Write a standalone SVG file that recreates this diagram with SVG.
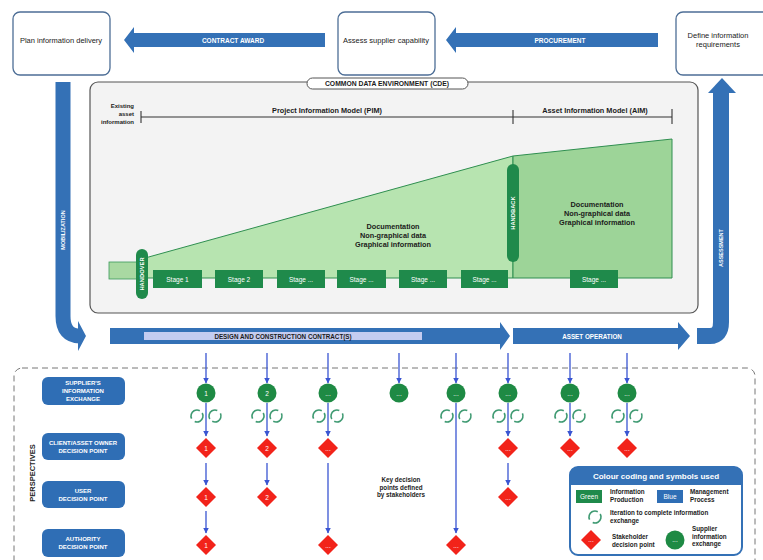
<svg xmlns="http://www.w3.org/2000/svg" width="763" height="560" viewBox="0 0 763 560">
<style>
text{font-family:"Liberation Sans",Arial,sans-serif}
.box{fill:#fff;stroke:#4d6e96;stroke-width:1.3}
.bt{font-size:7.5px;fill:#222;text-anchor:middle}
.blue{fill:#3471b6}
.wt{fill:#fff;font-weight:bold;text-anchor:middle}
.dk{fill:#1b1b1b;font-weight:bold}
.stage{fill:#1f8a4b}
.st{font-size:6.5px;fill:#fff;text-anchor:middle}
.pill{fill:#1f8a4b}
.gc{fill:#1e8a44}
.dia{fill:#f2231a}
.num{font-size:6.5px;fill:#fff;text-anchor:middle}
.con{stroke:#3a55d2;stroke-width:1.3;fill:none}
.it{fill:none;stroke:#3f9a72;stroke-width:1.6;stroke-dasharray:14.5 4.35}
.pl{fill:#2f6eb5}
</style>
<defs>
<marker id="ah" markerWidth="6" markerHeight="6" refX="5.5" refY="3" orient="auto" markerUnits="userSpaceOnUse"><path d="M0,0 L6,3 L0,6 z" fill="#3a55d2"/></marker>
<g id="iter"><circle cx="-9" cy="0" r="6" class="it" transform="rotate(-30 -9 0)"/><circle cx="9" cy="0" r="6" class="it" transform="rotate(150 9 0)"/></g>
</defs>

<!-- Top boxes -->
<g id="plan"><rect class="box" x="13" y="12" width="97" height="63" rx="7"/><text class="bt" x="61" y="43">Plan information delivery</text></g>
<g id="assess"><rect class="box" x="338" y="12" width="97" height="63" rx="7"/><text class="bt" x="386" y="43">Assess supplier capability</text></g>
<g id="define"><rect class="box" x="676" y="12" width="100" height="63" rx="7"/><text class="bt" x="718" y="38">Define information</text><text class="bt" x="718" y="47">requirements</text></g>

<!-- Top arrows -->
<g id="contract-award"><polygon class="blue" points="124,40 134,27 134,33 325,33 325,47 134,47 134,53"/><text class="wt" x="233" y="42.5" font-size="6.5">CONTRACT AWARD</text></g>
<g id="procurement"><polygon class="blue" points="446,40 456,27 456,33 658,33 658,47 456,47 456,53"/><text class="wt" x="560" y="42.5" font-size="6.5">PROCUREMENT</text></g>

<!-- Mobilization -->
<g id="mobilization">
<path d="M63,82 V316 Q63,336 80,336" fill="none" stroke="#3471b6" stroke-width="15"/>
<polygon class="blue" points="78,321 86,336 78,351"/>
<text class="wt" font-size="5.5" transform="translate(65,230) rotate(-90)">MOBILIZATION</text>
</g>

<!-- Assessment -->
<g id="assessment">
<path d="M697,336 H710 Q721,336 721,322 V92" fill="none" stroke="#3471b6" stroke-width="16"/>
<polygon class="blue" points="708,93 722,78 736,93"/>
<text class="wt" font-size="5.5" transform="translate(723,248) rotate(-90)">ASSESSMENT</text>
</g>

<!-- CDE -->
<g id="cde">
<rect x="90" y="82" width="608" height="231" rx="8" fill="#f3f3f3" stroke="#555" stroke-width="1.2"/>
<rect x="307" y="78" width="161" height="11" rx="5.5" fill="#fff" stroke="#555" stroke-width="1"/>
<text class="dk" x="387" y="86.3" font-size="6.8" text-anchor="middle" fill="#333">COMMON DATA ENVIRONMENT (CDE)</text>
<text class="dk" x="134" y="108" font-size="6" text-anchor="end">Existing</text>
<text class="dk" x="134" y="116" font-size="6" text-anchor="end">asset</text>
<text class="dk" x="134" y="124" font-size="6" text-anchor="end">information</text>
<g stroke="#333" stroke-width="1.1">
<line x1="141" y1="117" x2="672" y2="117"/>
<line x1="141" y1="111" x2="141" y2="123"/>
<line x1="513" y1="110" x2="513" y2="124"/>
<line x1="672" y1="109" x2="672" y2="124"/>
</g>
<text class="dk" x="327" y="113" font-size="7.3" text-anchor="middle">Project Information Model (PIM)</text>
<text class="dk" x="595" y="113" font-size="7.3" text-anchor="middle">Asset Information Model (AIM)</text>
</g>

<!-- Information areas -->
<g id="existing-info"><rect x="109" y="262" width="36" height="17" fill="#a9d9a2" stroke="#3a9a5a" stroke-width="0.8"/></g>
<g id="pim-area">
<polygon points="145,258 513,156 513,278 145,278" fill="#b7e4b0" stroke="#2f8f50" stroke-width="1"/>
<text class="dk" x="393" y="229" font-size="7.3" text-anchor="middle">Documentation</text>
<text class="dk" x="393" y="238" font-size="7.3" text-anchor="middle">Non-graphical data</text>
<text class="dk" x="393" y="247" font-size="7.3" text-anchor="middle">Graphical information</text>
</g>
<g id="aim-area">
<polygon points="513,156 672,139 672,278 513,278" fill="#9dd498" stroke="#2f8f50" stroke-width="1"/>
<text class="dk" x="597" y="207" font-size="7.3" text-anchor="middle">Documentation</text>
<text class="dk" x="597" y="216" font-size="7.3" text-anchor="middle">Non-graphical data</text>
<text class="dk" x="597" y="225" font-size="7.3" text-anchor="middle">Graphical information</text>
</g>
<g id="handover"><rect class="pill" x="136" y="249" width="12" height="50" rx="6"/><text class="wt" font-size="5.8" transform="translate(144.2,274) rotate(-90)">HANDOVER</text></g>
<g id="handback"><rect class="pill" x="507" y="164" width="12" height="98" rx="6"/><text class="wt" font-size="5.8" transform="translate(515.2,213) rotate(-90)">HANDBACK</text></g>

<g id="stage1"><rect class="stage" x="153" y="270" width="49" height="18"/><text class="st" x="177.5" y="281.5">Stage 1</text></g>
<g id="stage2"><rect class="stage" x="215" y="270" width="48" height="18"/><text class="st" x="239" y="281.5">Stage 2</text></g>
<g id="stage3"><rect class="stage" x="277" y="270" width="48" height="18"/><text class="st" x="301" y="281.5">Stage ...</text></g>
<g id="stage4"><rect class="stage" x="337" y="270" width="49" height="18"/><text class="st" x="361.5" y="281.5">Stage ...</text></g>
<g id="stage5"><rect class="stage" x="399" y="270" width="48" height="18"/><text class="st" x="423" y="281.5">Stage ...</text></g>
<g id="stage6"><rect class="stage" x="461" y="270" width="47" height="18"/><text class="st" x="484.5" y="281.5">Stage ...</text></g>
<g id="stage7"><rect class="stage" x="570" y="270" width="48" height="18"/><text class="st" x="594" y="281.5">Stage ...</text></g>

<!-- Contract bars -->
<g id="design-contract">
<polygon class="blue" points="110,328 500,328 500,322 510,336 500,350 500,344 110,344"/>
<rect x="144" y="332" width="278" height="8" fill="#c4ccf0"/>
<text class="dk" x="283" y="338.5" font-size="6.3" text-anchor="middle" fill="#1a2550">DESIGN AND CONSTRUCTION CONTRACT(S)</text>
</g>
<g id="asset-operation">
<polygon class="blue" points="513,328 678,328 678,322 690,336 678,350 678,344 513,344"/>
<text class="wt" x="592" y="338.5" font-size="6.3">ASSET OPERATION</text>
</g>

<!-- Perspectives -->
<g id="perspectives">
<rect x="14" y="368" width="741" height="210" rx="8" fill="none" stroke="#777" stroke-width="1" stroke-dasharray="6 4"/>
<text class="dk" font-size="7.5" text-anchor="middle" fill="#1a2a4a" transform="translate(35,473) rotate(-90)">PERSPECTIVES</text>
</g>
<g id="p-supplier"><rect class="pl" x="42" y="377" width="83" height="28" rx="6"/><text class="wt" font-size="6" x="83" y="385">SUPPLIER'S</text><text class="wt" font-size="6" x="83" y="393">INFORMATION</text><text class="wt" font-size="6" x="83" y="401">EXCHANGE</text></g>
<g id="p-client"><rect class="pl" x="42" y="433" width="83" height="27" rx="6"/><text class="wt" font-size="6" x="83" y="445">CLIENT/ASSET OWNER</text><text class="wt" font-size="6" x="83" y="453">DECISION POINT</text></g>
<g id="p-user"><rect class="pl" x="42" y="481" width="83" height="27" rx="6"/><text class="wt" font-size="6" x="83" y="493">USER</text><text class="wt" font-size="6" x="83" y="501">DECISION POINT</text></g>
<g id="p-authority"><rect class="pl" x="42" y="529" width="83" height="28" rx="6"/><text class="wt" font-size="6" x="83" y="541">AUTHORITY</text><text class="wt" font-size="6" x="83" y="549">DECISION POINT</text></g>

<!-- Connectors -->
<g id="connectors">
<line class="con" x1="206" y1="353" x2="206" y2="383" marker-end="url(#ah)"/>
<line class="con" x1="267" y1="353" x2="267" y2="383" marker-end="url(#ah)"/>
<line class="con" x1="328" y1="353" x2="328" y2="383" marker-end="url(#ah)"/>
<line class="con" x1="399" y1="353" x2="399" y2="383" marker-end="url(#ah)"/>
<line class="con" x1="456" y1="353" x2="456" y2="383" marker-end="url(#ah)"/>
<line class="con" x1="508" y1="353" x2="508" y2="383" marker-end="url(#ah)"/>
<line class="con" x1="570" y1="353" x2="570" y2="383" marker-end="url(#ah)"/>
<line class="con" x1="627" y1="353" x2="627" y2="383" marker-end="url(#ah)"/>

<line class="con" x1="206" y1="403" x2="206" y2="436" marker-end="url(#ah)"/>
<line class="con" x1="267" y1="403" x2="267" y2="436" marker-end="url(#ah)"/>
<line class="con" x1="328" y1="403" x2="328" y2="436" marker-end="url(#ah)"/>
<line class="con" x1="456" y1="403" x2="456" y2="533" marker-end="url(#ah)"/>
<line class="con" x1="508" y1="403" x2="508" y2="436" marker-end="url(#ah)"/>
<line class="con" x1="570" y1="403" x2="570" y2="436" marker-end="url(#ah)"/>
<line class="con" x1="627" y1="403" x2="627" y2="436" marker-end="url(#ah)"/>

<line class="con" x1="206" y1="463" x2="206" y2="485" marker-end="url(#ah)"/>
<line class="con" x1="267" y1="463" x2="267" y2="485" marker-end="url(#ah)"/>
<line class="con" x1="508" y1="463" x2="508" y2="485" marker-end="url(#ah)"/>
<line class="con" x1="206" y1="511" x2="206" y2="533" marker-end="url(#ah)"/>
<line class="con" x1="328" y1="463" x2="328" y2="533" marker-end="url(#ah)"/>

<use href="#iter" x="206" y="416"/>
<use href="#iter" x="267" y="416"/>
<use href="#iter" x="328" y="416"/>
<use href="#iter" x="456" y="416"/>
<use href="#iter" x="508" y="416"/>
<use href="#iter" x="570" y="416"/>
<use href="#iter" x="627" y="416"/>
</g>

<!-- Supplier information exchange points -->
<g id="s1"><circle class="gc" cx="206" cy="393" r="9.5"/><text class="num" x="206" y="395.5">1</text></g>
<g id="s2"><circle class="gc" cx="267" cy="393" r="9.5"/><text class="num" x="267" y="395.5">2</text></g>
<g id="s3"><circle class="gc" cx="328" cy="393" r="9.5"/><text class="num" x="328" y="395.5">...</text></g>
<g id="s4"><circle class="gc" cx="399" cy="393" r="9.5"/><text class="num" x="399" y="395.5">...</text></g>
<g id="s5"><circle class="gc" cx="456" cy="393" r="9.5"/><text class="num" x="456" y="395.5">...</text></g>
<g id="s6"><circle class="gc" cx="508" cy="393" r="9.5"/><text class="num" x="508" y="395.5">...</text></g>
<g id="s7"><circle class="gc" cx="570" cy="393" r="9.5"/><text class="num" x="570" y="395.5">...</text></g>
<g id="s8"><circle class="gc" cx="627" cy="393" r="9.5"/><text class="num" x="627" y="395.5">...</text></g>

<!-- Decision points -->
<g id="c1"><polygon class="dia" points="206,438 216,448 206,458 196,448"/><text class="num" x="206" y="450.5">1</text></g>
<g id="c2"><polygon class="dia" points="267,438 277,448 267,458 257,448"/><text class="num" x="267" y="450.5">2</text></g>
<g id="c3"><polygon class="dia" points="328,438 338,448 328,458 318,448"/><text class="num" x="328" y="450.5">...</text></g>
<g id="c6"><polygon class="dia" points="508,438 518,448 508,458 498,448"/><text class="num" x="508" y="450.5">...</text></g>
<g id="c7"><polygon class="dia" points="570,438 580,448 570,458 560,448"/><text class="num" x="570" y="450.5">...</text></g>
<g id="c8"><polygon class="dia" points="627,438 637,448 627,458 617,448"/><text class="num" x="627" y="450.5">...</text></g>
<g id="u1"><polygon class="dia" points="206,487 216,497 206,507 196,497"/><text class="num" x="206" y="499.5">1</text></g>
<g id="u2"><polygon class="dia" points="267,487 277,497 267,507 257,497"/><text class="num" x="267" y="499.5">2</text></g>
<g id="u6"><polygon class="dia" points="508,487 518,497 508,507 498,497"/><text class="num" x="508" y="499.5">...</text></g>
<g id="a1"><polygon class="dia" points="206,535 216,545 206,555 196,545"/><text class="num" x="206" y="547.5">1</text></g>
<g id="a3"><polygon class="dia" points="328,535 338,545 328,555 318,545"/><text class="num" x="328" y="547.5">...</text></g>
<g id="a5"><polygon class="dia" points="456,535 466,545 456,555 446,545"/><text class="num" x="456" y="547.5">...</text></g>

<g id="key-note">
<text class="dk" x="401" y="482" font-size="6.3" text-anchor="middle">Key decision</text>
<text class="dk" x="401" y="489.5" font-size="6.3" text-anchor="middle">points defined</text>
<text class="dk" x="401" y="497" font-size="6.3" text-anchor="middle">by stakeholders</text>
</g>

<!-- Legend -->
<g id="legend">
<rect x="570" y="467" width="172" height="88" rx="8" fill="#fff" stroke="#3471b6" stroke-width="2"/>
<path d="M570,485 V475 Q570,467 578,467 H734 Q742,467 742,475 V485 Z" fill="#3471b6"/>
<text class="wt" x="656" y="479" font-size="8">Colour coding and symbols used</text>
<rect class="stage" x="576" y="490" width="26" height="13"/><text class="st" x="589" y="498.5" font-size="5">Green</text>
<text class="dk" x="610" y="494" font-size="6.3">Information</text><text class="dk" x="610" y="501.5" font-size="6.3">Production</text>
<rect class="pl" x="657" y="490" width="26" height="13"/><text class="st" x="670" y="498.5" font-size="5">Blue</text>
<text class="dk" x="690" y="494" font-size="6.3">Management</text><text class="dk" x="690" y="501.5" font-size="6.3">Process</text>
<circle cx="595" cy="517" r="6" class="it" transform="rotate(-30 595 517)"/>
<text class="dk" x="610" y="515" font-size="6.3">Iteration to complete information</text><text class="dk" x="610" y="522.5" font-size="6.3">exchange</text>
<polygon class="dia" points="591,530 601,540 591,550 581,540"/><text class="num" x="591" y="542" font-size="5">...</text>
<text class="dk" x="612" y="539" font-size="6.3">Stakeholder</text><text class="dk" x="612" y="546.5" font-size="6.3">decision point</text>
<circle class="gc" cx="675" cy="540" r="9.5"/><text class="num" x="675" y="542" font-size="5">...</text>
<text class="dk" x="692" y="531" font-size="6.3">Supplier</text><text class="dk" x="692" y="538.5" font-size="6.3">information</text><text class="dk" x="692" y="546" font-size="6.3">exchange</text>
</g>
</svg>
